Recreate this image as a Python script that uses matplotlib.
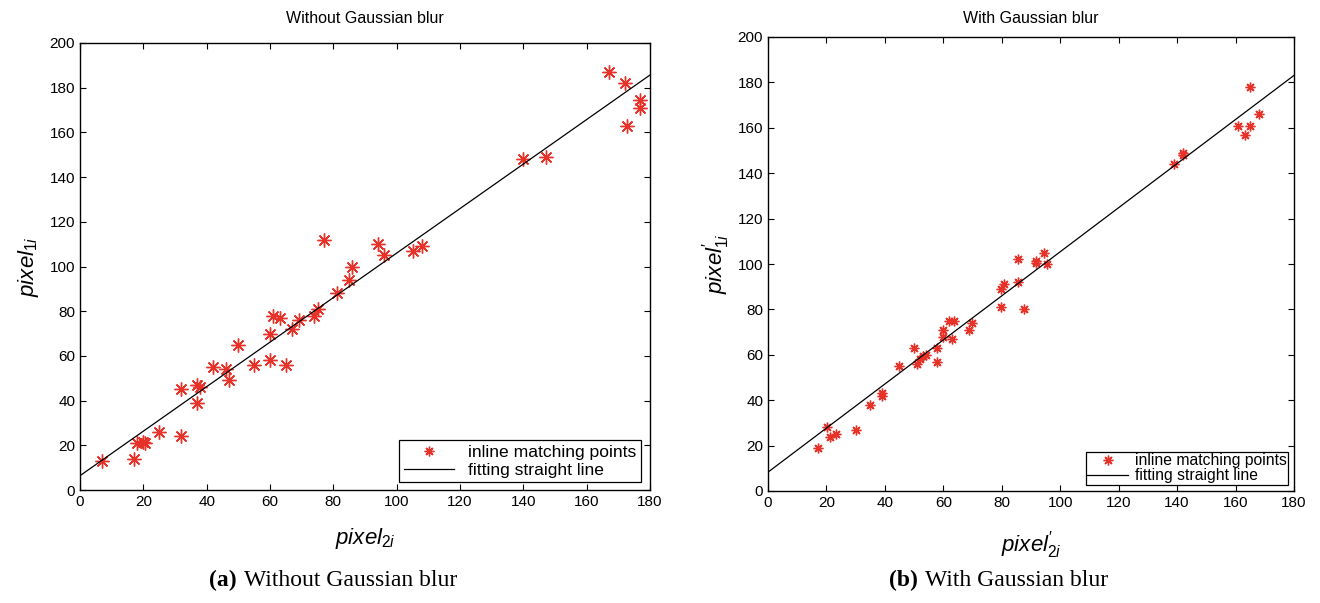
import numpy as np
import matplotlib
matplotlib.use("Agg")
import matplotlib.pyplot as plt

plt.rcParams['font.family'] = ['Liberation Sans', 'DejaVu Sans']
plt.rcParams['mathtext.fontset'] = 'custom'
plt.rcParams['mathtext.it'] = 'Liberation Sans:italic'
plt.rcParams['mathtext.rm'] = 'Liberation Sans'

# (a) ohne Blur
x_a = [7, 17, 18, 20, 20.5, 25, 32, 32, 37, 37, 38, 42, 46, 47, 50, 55, 60, 60,
       61, 63, 65, 67, 69, 74, 75, 77, 81, 85, 86, 94, 96, 105, 108,
       140, 147, 167, 172, 172.6, 176.8, 176.8]
y_a = [13, 14, 21, 21.5, 21, 26, 24, 45, 39, 47, 46, 55, 54, 49, 65, 56, 58, 70,
       78, 77, 56, 72, 76, 78, 81, 112, 88, 94, 100, 110, 105, 107, 109,
       148, 149, 187, 182, 163, 174.5, 171]
fit_a = [0.996, 6.4]   # slope, intercept

# (b) mit Blur
x_b = [17.2, 20.1, 21.2, 23.2, 30.1, 34.9, 39, 39, 44.9, 49.9, 51, 52, 53, 54,
       57.9, 57.9, 59.9, 59.9, 61.8, 63.8, 62.9, 68.8, 69.9, 79.7, 79.8, 80.7,
       85.7, 85.7, 87.6, 91.6, 91.6, 94.6, 95.6,
       139.1, 142, 142, 161, 163.1, 165, 165.1, 168]
y_b = [19, 28, 24, 25, 27, 38, 43, 42, 55, 63, 56, 58, 59.5, 60,
       57, 63, 71, 68, 75, 75, 67, 71, 74, 81, 89, 91,
       102, 92, 80, 101.5, 100.5, 105, 100,
       144, 149, 148, 161, 157, 161, 178, 166]
fit_b = [0.971, 8.3]

fig = plt.figure(figsize=(13.2, 6.03), dpi=100)
ax1 = fig.add_axes([80/1320, 1-490/603, 570/1320, 447/603])
ax2 = fig.add_axes([768/1320, 1-491/603, 526/1320, 454/603])

xx = np.array([0, 180])
red = '#e63228'

def style(ax):
    ax.set_xlim(0, 180)
    ax.set_ylim(0, 200)
    ax.set_xticks(range(0, 181, 20))
    ax.set_yticks(range(0, 201, 20))
    ax.tick_params(direction='in', top=True, right=True, labelsize=11, length=4, width=0.8)
    for s in ax.spines.values():
        s.set_linewidth(1.0)

# Diagramm a
ax1.plot(x_a, y_a, linestyle='none', marker=(8, 2, 0), markersize=10, color=red,
         markeredgewidth=1.0, label='inline matching points')
ax1.plot(xx, fit_a[0]*xx + fit_a[1], color='black', lw=0.9, label='fitting straight line')
style(ax1)
ax1.set_title('Without Gaussian blur', fontsize=11.5, pad=14.5)
ax1.set_xlabel(r'$pixel_{2i}$', fontsize=16, labelpad=12)
ax1.set_ylabel(r'$pixel_{1i}$', fontsize=16, labelpad=6)
leg1 = ax1.legend(loc='lower right', bbox_to_anchor=(641/1320, 1-482/603),
                  bbox_transform=fig.transFigure, fontsize=12.6, fancybox=False,
                  framealpha=1, edgecolor='black', handlelength=2.9,
                  borderpad=0.25, labelspacing=0.15, borderaxespad=0, markerscale=0.7)
leg1.get_frame().set_linewidth(0.9)

# Diagramm b
ax2.plot(x_b, y_b, linestyle='none', marker=(8, 2, 0), markersize=7, color=red,
         markeredgewidth=1.0, label='inline matching points')
ax2.plot(xx, fit_b[0]*xx + fit_b[1], color='black', lw=0.9, label='fitting straight line')
style(ax2)
ax2.set_title('With Gaussian blur', fontsize=11.5, pad=10)
ax2.set_xlabel(r"$pixel^{\prime}_{2i}$", fontsize=16, labelpad=14)
ax2.set_ylabel(r"$pixel^{\prime}_{1i}$", fontsize=16, labelpad=4)
leg2 = ax2.legend(loc='lower right', bbox_to_anchor=(1288/1320, 1-485/603),
                  bbox_transform=fig.transFigure, fontsize=11.3, fancybox=False,
                  framealpha=1, edgecolor='black', handlelength=2.6,
                  borderpad=0.1, labelspacing=0.0, borderaxespad=0, handletextpad=0.4)
leg2.get_frame().set_linewidth(0.9)

# Bildunterschriften
cap = dict(family='Liberation Serif', fontsize=17, va='center')
fig.text(237/1320, 1-580/603, '(a)', ha='right', weight='bold', **cap)
fig.text(244/1320, 1-580/603, 'Without Gaussian blur', ha='left', **cap)
fig.text(918/1320, 1-580/603, '(b)', ha='right', weight='bold', **cap)
fig.text(925/1320, 1-580/603, 'With Gaussian blur', ha='left', **cap)

fig.savefig('out.png', dpi=100)
